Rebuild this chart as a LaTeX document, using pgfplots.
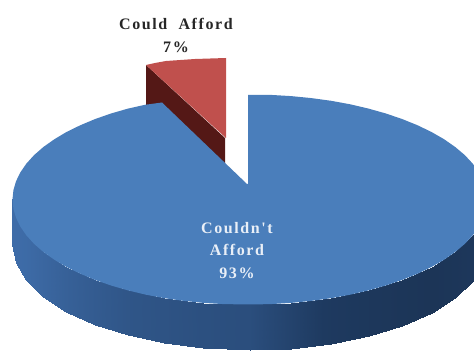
\documentclass[border=0pt]{standalone}
\usepackage{fontspec}
\newfontfamily\labelfont{Liberation Serif}
\usepackage{pgfplots}
\pgfplotsset{compat=1.18}
\definecolor{sliceblue}{RGB}{74,126,187}
\definecolor{slicered}{RGB}{192,80,77}
\definecolor{slicedark}{RGB}{84,24,22}
\begin{document}
\begin{tikzpicture}
\useasboundingbox (0,0) rectangle (474pt,352pt);
\begin{axis}[
  at={(0,0)}, anchor=south west,
  scale only axis, width=474pt, height=352pt,
  xmin=0, xmax=474, ymin=0, ymax=352, y dir=reverse,
  axis lines=none, clip=true,
  colormap={sidewall}{rgb255(0cm)=(28,53,87); rgb255(1cm)=(30,58,96); rgb255(2cm)=(44,80,128); rgb255(3cm)=(62,108,168)},
  point meta min=0, point meta max=3
]
% dark wall and top of the detached 7% slice
\addplot[fill=slicedark, draw=none] coordinates {(146,65) (225,138) (225,165) (146,112)} -- cycle;
\addplot[fill=slicered, draw=none] coordinates {(146,65) (155,63) (166,61) (195,59) (226,58) (226,138)} -- cycle;
% outer wall of the 93% slice, one quad per segment, shaded along the rim
\addplot[patch, patch type=rectangle, shader=interp, point meta=explicit] table[meta=m] {
x y m
12.5 199.5 3
16 217.7 3
16 262.7 3
12.5 244.5 3
16 217.7 3
26.4 235.4 2.95
26.4 280.4 2.95
16 262.7 3
26.4 235.4 2.95
43.4 252 2.8
43.4 297 2.8
26.4 280.4 2.95
43.4 252 2.8
66.5 267 2.6
66.5 312 2.6
43.4 297 2.8
66.5 267 2.6
95 279.9 2.4
95 324.9 2.4
66.5 312 2.6
95 279.9 2.4
128 290.4 2.2
128 335.4 2.2
95 324.9 2.4
128 290.4 2.2
164.5 298.2 2.1
164.5 343.2 2.1
128 335.4 2.2
164.5 298.2 2.1
203.4 302.9 2
203.4 347.9 2
164.5 343.2 2.1
203.4 302.9 2
250 304.5 1.9
250 350.5 1.9
203.4 347.9 2
250 304.5 1.9
291.1 302.9 1.4
291.1 348.9 1.4
250 350.5 1.9
291.1 302.9 1.4
331.1 298.2 0.9
331.1 344.2 0.9
291.1 348.9 1.4
331.1 298.2 0.9
368.5 290.4 0.5
368.5 336.4 0.5
331.1 344.2 0.9
368.5 290.4 0.5
402.3 279.9 0.2
402.3 325.9 0.2
368.5 336.4 0.5
402.3 279.9 0.2
431.5 267 0
431.5 313 0
402.3 325.9 0.2
431.5 267 0
455.2 252 0.2
455.2 298 0.2
431.5 313 0
455.2 252 0.2
472.7 235.4 0.5
472.7 281.4 0.5
455.2 298 0.2
472.7 235.4 0.5
483.4 217.7 0.7
483.4 263.7 0.7
472.7 281.4 0.5
};
% top face of the 93% slice, rim sampled every five degrees
\addplot[fill=sliceblue, draw=none] coordinates {
(248,95) (270.7,94.9) (291.1,96.1) (311.3,98.1) (331.1,100.8) (350.2,104.3) (368.5,108.6)
(385.9,113.5) (402.3,119.1) (417.6,125.3) (431.5,132) (444.2,139.3) (455.2,147) (464.8,155.1)
(472.7,163.6) (478.9,172.3) (483.4,181.3) (486.1,190.3) (487,199.5) (486.1,208.7) (483.4,217.7)
(478.9,226.7) (472.7,235.4) (464.8,243.9) (455.2,252) (444.2,259.7) (431.5,267) (417.6,273.7)
(402.3,279.9) (385.9,285.5) (368.5,290.4) (350.2,294.7) (331.1,298.2) (311.3,300.9) (291.1,302.9)
(270.7,304.1) (250,304.5) (223.4,304.1) (203.4,302.9) (183.7,300.9) (164.5,298.2) (145.9,294.7)
(128,290.4) (111,285.5) (95,279.9) (80.2,273.7) (66.5,267) (54.3,259.7) (43.4,252) (34.1,243.9)
(26.4,235.4) (20.4,226.7) (16,217.7) (13.4,208.7) (12.5,199.5) (13.4,190.3) (16,181.3) (20.4,172.3)
(26.4,163.6) (34.1,155.1) (43.4,147) (54.3,139.3) (66.5,132) (80.2,125.3) (95,119.1) (111,113.5)
(128,108.6) (145,104.8) (162,102.5) (247,184) (248,184)} -- cycle;
% value labels
\node[font=\labelfont\bfseries\fontsize{16}{18}\selectfont\addfontfeature{LetterSpace=10}, align=center, text=black!85, inner sep=0pt]
  at (axis cs:176,35.5) {Could\ \ Afford\\[5pt]7\%};
\node[font=\labelfont\bfseries\fontsize{16}{18}\selectfont\addfontfeature{LetterSpace=10}, align=center, text=white!88!sliceblue, inner sep=0pt]
  at (axis cs:237,250.5) {Couldn't\\[4.5pt]Afford\\[4.5pt]93\%};
\end{axis}
\end{tikzpicture}
\end{document}
